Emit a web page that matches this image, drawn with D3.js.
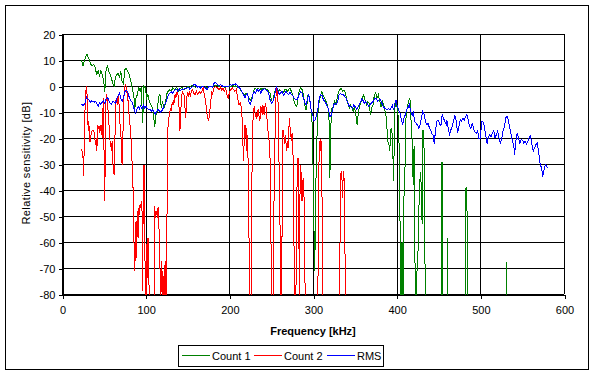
<!DOCTYPE html>
<html><head><meta charset="utf-8">
<script src="https://cdn.jsdelivr.net/npm/d3@7/dist/d3.min.js"></script>
<style>
body{margin:0;background:#fff}
svg{display:block}
text{font-family:"Liberation Sans",Arial,sans-serif;fill:#000}
</style>
</head><body>
<svg id="chart" width="594" height="375"></svg>
<script>
// ---- data ----
const xTicks = [0,100,200,300,400,500,600];
const yTicks = [20,10,0,-10,-20,-30,-40,-50,-60,-70,-80];
const seriesNames = ["Count 1","Count 2","RMS"];
const seriesColors = ["#008000","#ff0000","#0000ff"];

// Count 1 (green)
const count1Freq = [23.4,25.0,26.6,28.2,29.8,31.3,32.9,34.5,36.1,37.7,39.3,40.1,41.7,43.3,44.8,46.4,48.0,49.6,51.2,52.8,54.4,56.0,57.5,59.1,60.7,62.3,63.9,65.5,67.1,68.7,70.2,71.8,73.4,75.0,76.6,78.2,79.8,81.3,82.9,84.5,86.1,86.9,88.5,90.1,91.7,93.3,94.8,96.4,98.0,99.6,101.2,102.8,104.4,106.0,107.5,109.1,110.7,112.3,113.9,115.5,117.1,118.7,120.2,121.8,123.4,125.0,126.6,128.2,130.6,132.1,134.5,136.9,139.3,140.9,143.3,145.6,148.0,150.4,152.8,155.2,157.5,159.9,162.3,164.7,167.1,169.4,171.8,174.2,176.6,179.0,181.3,183.7,186.1,188.5,190.9,193.3,195.6,198.0,
199.6,201.2,202.8,204.4,206.0,207.5,209.1,210.7,212.3,213.9,215.5,217.1,218.7,220.2,221.8,223.4,225.0,226.6,228.2,229.8,231.3,232.9,234.5,236.1,237.7,239.3,240.9,242.5,244.0,245.6,247.2,248.8,250.4,252.0,253.6,255.2,256.7,258.3,259.9,261.5,263.1,264.7,266.3,267.9,269.4,271.0,272.6,274.2,275.8,277.4,279.0,280.6,282.1,283.7,285.3,286.9,288.5,290.1,291.7,293.3,294.0,295.6,297.2,298.8,299.6,300.4,301.2,302.0,302.8,303.6,304.4,306.0,307.5,309.1,310.7,312.3,313.9,315.5,317.1,318.7,319.4,320.2,321.0,321.8,322.6,323.4,324.2,325.8,327.4,329.0,330.6,332.1,333.7,335.3,336.9,338.5,340.1,341.7,343.3,344.8,346.4,348.0,349.6,351.2,352.8,354.4,356.0,357.5,359.1,360.7,362.3,363.9,365.5,367.1,368.7,370.2,371.8,373.4,375.0,376.6,378.2,379.8,381.3,382.9,384.5,386.1,387.7,389.3,390.9,391.7,393.3,394.8,396.4,
397.6,398.4,399.2,400.0,400.8,401.6,402.4,403.2,404.0,404.8,405.6,406.4,407.2,408.0,408.8,409.6,410.4,411.2,412.0,412.8,413.6,414.4,415.2,416.0,416.8,417.6,418.4,419.2,420.0,420.8,421.6,422.4,423.2,424.0,425.6,427.2,428.8,430.4,431.2,432.0,432.8,433.6,434.4,453.0,453.6,454.4,455.2,460.4,461.0,461.6,481.6,482.4,483.2,484.0,484.8,531.0,531.6,532.2,580.0];
const count1 = [10.0,7.7,9.5,11.3,12.3,10.8,10.0,8.2,7.9,8.2,7.7,6.2,4.4,5.9,3.6,5.9,4.6,2.3,-2.1,6.9,7.7,5.6,4.4,3.1,0.8,0,3.6,4.4,4.9,3.1,5.6,1.8,0.8,6.2,6.7,5.9,4.9,3.1,0.8,-1.5,-4.6,-9.2,-4.6,-3.3,-0.5,-2.1,-0.3,-14.4,0,-0.8,-4.6,-3.3,-5.9,-7.2,-7.9,-9.7,-15.9,-11.0,-9.7,-4.1,-3.3,-8.5,-5.9,-8.7,-7.2,-3.3,-2.1,-1.5,-2.1,-0.8,-1.3,-0.5,-2.1,-1.3,-0.5,-1.5,-0.8,-0.3,-0.5,0.3,-0.3,-0.5,0,-0.3,0,-0.5,-0.3,-0.8,0,-0.3,0,0.3,0,-0.3,0.3,-0.3,-0.5,0,
0,-0.3,0,0.3,-0.3,0,-0.3,-0.5,-1.0,-1.8,-2.6,-2.8,-3.6,-2.8,-3.3,-4.6,-5.6,-4.6,-3.3,-1.0,-0.8,-1.5,-0.8,-1.5,-1.0,-1.3,-0.8,-0.8,-1.3,-1.5,-2.1,-2.8,-5.6,-6.2,-3.3,-1.3,-0.8,-2.1,-1.5,-1.8,-2.1,-2.6,-1.5,-1.3,-2.1,-1.3,-0.8,-2.1,-3.3,-5.9,-7.2,-7.9,-4.6,-1.5,-0.8,-1.3,-3.3,-7.2,-9.2,-5.9,-3.3,-4.6,-7.2,-13.6,-23.8,-35.4,-55.9,-71.3,-55.9,-35.4,-22.6,-9.7,-5.9,-3.3,-2.1,-3.8,-4.6,-5.9,-7.2,-9.7,-14.9,-35.4,-17.4,-12.3,-8.5,-9.7,-7.2,-5.9,-7.2,-4.6,-2.1,-1.3,-1.0,-2.1,-1.5,-2.6,-4.6,-6.7,-8.5,-7.2,-8.2,-9.7,-7.9,-11.0,-14.9,-9.7,-7.7,-5.9,-4.6,-3.3,-5.6,-7.2,-5.9,-6.7,-11.0,-8.5,-7.2,-3.3,-2.6,-4.6,-3.3,-5.9,-7.9,-5.9,-7.2,-9.7,-12.3,-21.3,-22.6,-25.1,-16.2,-18.7,-36.7,
-9.5,-7.0,-5.5,-7.5,-8.5,-11.0,-14.0,-30.0,-52.0,-75.0,-95,-60,-95,-95,-42,-40,-22,-12,-9.5,-8,-7,-6,-4.6,-5.5,-9,-18.5,-20,-33,-38,-23,-50,-95,-85,-73,-63,-38,-33,-53,-17,-17,-25,-55,-95,-95,-29.5,-29.5,-95,-95,-58.5,-95,-95,-40,-39,-43,-95,-95,-67.6,-95,-95];

// Count 2 (red)
const count2Freq = [23.4,25.0,25.8,26.6,27.4,28.2,29.0,29.8,30.6,31.3,32.1,32.9,33.7,35.3,36.9,38.5,40.1,40.9,41.7,42.5,43.3,44.0,44.8,45.6,46.4,47.2,48.0,48.8,49.6,50.4,51.2,52.0,52.8,53.6,54.4,55.2,56.0,56.7,57.5,58.3,59.1,59.9,60.7,61.5,62.3,63.1,63.9,64.7,65.5,66.3,67.1,67.9,68.7,69.4,70.2,71.0,71.8,72.6,73.4,74.2,75.0,75.8,76.6,77.4,78.2,79.0,79.8,80.6,81.3,82.1,82.9,83.7,84.5,85.3,86.1,86.9,87.7,88.5,89.3,90.1,90.9,91.7,92.5,93.3,94.0,94.8,95.6,96.4,97.2,98.0,98.8,99.6,100.4,101.2,102.0,102.8,103.6,104.4,109.9,110.7,111.5,112.3,113.1,113.9,114.7,115.5,116.3,117.1,117.9,118.7,119.4,120.2,121.0,121.8,122.6,123.4,124.2,125.0,
125.8,126.6,127.4,128.2,129.0,129.8,130.6,131.3,132.1,132.9,133.7,134.5,135.3,136.1,136.9,137.7,138.5,139.3,140.1,140.9,141.7,142.5,143.3,144.0,144.8,145.6,146.4,147.2,148.0,148.8,149.6,150.4,151.2,152.0,152.8,153.6,154.4,156.0,157.5,159.1,160.7,162.3,163.9,165.5,167.1,167.9,168.7,169.4,170.2,171.0,171.8,172.6,173.4,174.2,175.0,175.8,176.6,177.4,178.2,179.0,179.8,180.6,181.3,182.9,184.5,186.1,187.7,189.3,190.9,192.5,194.0,195.6,197.2,198.8,
199.6,200.4,202.0,203.6,205.2,206.7,208.3,209.9,211.5,213.1,214.7,215.5,216.3,217.1,217.9,218.7,219.4,220.2,221.0,221.8,222.6,223.4,224.2,225.0,225.8,226.6,227.4,228.2,229.0,229.8,230.6,231.3,232.1,232.9,233.7,234.5,235.3,236.1,236.9,237.7,238.5,239.3,240.1,240.9,241.7,242.5,243.3,244.0,244.8,245.6,246.4,247.2,248.0,248.8,249.6,250.4,251.2,252.0,252.8,253.6,254.4,255.2,256.0,256.7,257.5,258.3,259.1,259.9,260.7,261.5,262.3,263.1,263.9,264.7,265.5,266.3,267.1,267.9,268.7,269.4,270.2,271.0,271.8,272.6,273.4,274.2,275.0,275.8,276.6,277.4,278.2,279.0,279.8,280.6,281.3,282.1,282.9,283.7,284.5,285.3,286.1,286.9,287.7,288.5,289.3,290.1,290.9,
305.5,306.3,307.1,307.9,308.7,309.4,310.2,311.0,311.8,331.3,332.1,332.9,333.7,334.5,335.3,336.1,336.9,337.7,338.5,339.3,580.0];
const count2 = [-24.1,-26.4,-34.7,-22.6,-9.7,-4.6,0,-2.1,-9.7,-17.4,-13.6,-21.3,-21.3,-17.4,-16.9,-17.7,-22.6,-20.0,-25.1,-14.9,-16.2,-15.6,-17.9,-14.9,-17.4,-14.9,-20.0,-9.7,-4.6,-30.3,-44.4,-9.7,-4.6,-3.3,-7.2,-9.7,-13.6,-18.7,-21.3,-22.6,-25.1,-21.3,-29.0,-32.8,-34.1,-23.8,-9.7,-4.6,-5.9,-7.2,-3.3,-5.9,-9.7,-14.9,-17.4,-22.6,-30.3,-22.6,-9.7,-3.3,-0.8,0.8,-0.3,-2.1,-3.3,-5.9,-9.7,-12.3,-14.9,-17.4,-22.6,-29.0,-35.4,-43.1,-61.0,-71.3,-62.3,-52.1,-66.2,-48.2,-58.5,-46.9,-49.5,-45.6,-46.9,-44.4,-46.9,-79.0,-31.5,-30.3,-37.9,-95,-95,-63.6,-58.5,-73.8,-58.5,-95,-95,-46.2,-50.8,-48.2,-49.5,-46.9,-50.8,-46.4,-61.0,-68.7,-95,-67.4,-73.8,-71.3,-95,-73.8,-68.7,-95,-67.4,-95,
-25.1,-16.2,-13.6,-11.0,-9.7,-8.5,-9.7,-7.2,-6.7,-5.9,-7.2,-4.6,-3.3,-4.6,-3.3,-2.1,-3.3,-4.6,-9.7,-17.4,-12.3,-5.9,-3.3,-2.1,-3.1,-2.8,-4.6,-9.7,-12.3,-5.9,-3.3,-2.6,-4.1,-2.1,-3.3,-3.8,-2.1,-1.5,-2.8,-3.3,-2.1,-3.3,-2.1,-2.8,-2.1,-1.3,-0.8,-2.1,-3.3,-4.6,-5.9,-9.2,-11.0,-12.3,-13.6,-12.3,-9.7,-7.2,-4.6,-2.1,-3.3,-2.1,-0.8,-0.3,-0.5,-0.8,-1.3,-0.5,-1.5,-0.8,-2.1,-1.0,-3.3,-5.1,
-3.3,-2.1,-1.3,-0.8,-1.5,-2.1,-1.3,-4.6,-7.2,-6.7,-8.5,-14.9,-22.6,-29.0,-18.7,-14.9,-20.0,-16.2,-25.1,-18.7,-32.3,-55.9,-73.8,-95,-95,-61.0,-18.1,-13.6,-9.7,-7.9,-9.7,-11.8,-10.5,-12.8,-9.7,-9.2,-11.0,-13.6,-12.3,-7.9,-8.5,-11.0,-7.2,-9.7,-11.3,-7.9,-6.7,-8.5,-11.8,-14.9,-18.2,-20.0,-22.6,-29.0,-55.9,-73.8,-95,-95,-73.8,-35.4,-23.8,-9.7,-2.1,-0.3,-1.3,-7.2,-22.6,-40.5,-55.9,-95,-95,-50.8,-16.9,-17.4,-20.0,-22.1,-18.7,-22.6,-25.1,-21.3,-23.8,-17.4,-12.3,-16.2,-18.7,-21.3,-17.9,-21.3,-35.4,-64.9,-95,-95,-73.8,-45,-30,-27.7,-35,-95,-40,-30.4,-36.0,-44.4,-37,-35.4,-43.1,-60,-95,
-95,-60,-30,-21,-25,-20.5,-23,-50,-95,-95,-68,-35.4,-32.8,-34.1,-43,-33.8,-32.8,-45.6,-72.6,-95,-95];

// RMS (blue)
const rmsFreq = [23.4,25.0,26.6,28.2,29.0,30.6,32.1,33.7,35.3,36.9,38.5,40.1,41.7,43.3,44.8,46.4,48.0,49.6,51.2,52.8,54.4,56.0,57.5,59.1,60.7,62.3,63.9,65.5,67.1,68.7,70.2,71.8,73.4,75.0,76.6,78.2,79.8,81.3,82.9,84.5,86.1,87.7,89.3,90.9,92.5,94.0,95.6,97.2,98.8,100.4,102.0,103.6,105.2,106.7,108.3,109.9,111.5,113.1,114.7,116.3,117.9,119.4,121.0,122.6,124.2,125.8,127.4,129.0,130.6,132.1,133.7,135.3,136.9,138.5,140.1,141.7,143.3,144.8,146.4,148.0,149.6,151.2,152.8,154.4,156.0,157.5,159.1,160.7,162.3,163.9,165.5,167.1,168.7,170.2,171.8,173.4,175.0,176.6,178.2,179.8,181.3,182.9,184.5,186.1,187.7,189.3,190.9,192.5,194.0,195.6,197.2,198.8,
199.6,201.2,202.8,204.4,206.0,207.5,209.1,210.7,212.3,213.9,215.5,217.1,218.7,220.2,221.8,223.4,225.0,226.6,228.2,229.8,231.3,232.9,234.5,236.1,237.7,239.3,240.9,242.5,244.0,245.6,247.2,248.8,250.4,252.0,253.6,255.2,256.7,258.3,259.9,261.5,263.1,264.7,266.3,267.9,269.4,271.0,272.6,274.2,275.8,277.4,279.0,280.6,282.1,283.7,285.3,286.9,288.5,290.1,291.7,293.3,294.8,296.4,298.0,299.6,301.2,302.8,304.4,306.0,307.5,309.1,310.7,312.3,313.9,315.5,317.1,318.7,320.2,321.8,323.4,325.0,326.6,328.2,329.8,331.3,332.9,334.5,336.1,337.7,339.3,340.9,342.5,344.0,345.6,347.2,348.8,350.4,352.0,353.6,355.2,356.7,358.3,359.9,361.5,363.1,364.7,366.3,367.9,369.4,371.0,372.6,374.2,375.8,377.4,379.0,380.6,382.1,383.7,385.3,386.9,388.5,390.1,391.7,393.3,394.8,396.4,
397.6,399.2,400.8,402.4,404.0,405.6,407.2,408.8,410.4,412.0,413.6,415.2,416.8,418.4,420.0,421.6,423.2,424.8,426.4,428.0,429.6,431.2,432.8,434.4,436.0,437.6,439.2,440.8,442.4,444.0,444.8,446.4,448.0,449.6,451.2,452.8,454.4,456.0,457.6,459.2,460.0,461.6,463.2,464.8,466.4,468.0,469.6,471.2,472.8,474.4,476.0,477.6,479.2,480.8,482.4,484.0,485.6,487.2,488.8,490.4,492.0,493.6,495.2,496.8,498.4,500.0,501.6,503.2,504.8,506.4,508.0,509.6,511.2,512.8,514.4,516.0,517.6,519.2,520.8,522.4,524.0,525.6,527.2,528.8,530.4,532.0,533.6,535.2,536.8,538.4,540.0,540.8,542.4,544.0,545.6,547.2,548.8,550.4,552.0,553.6,555.2,556.8,558.4,560.0,561.6,563.2,564.8,566.4,568.0,569.6,571.2,572.8,573.6,574.4,576.0,577.6,579.2,580.0];
const rms = [-6.9,-7.4,-7.2,-6.2,-4.1,-4.9,-5.1,-6.4,-5.6,-5.9,-6.2,-5.9,-6.9,-7.9,-6.4,-7.2,-6.2,-5.6,-6.7,-4.9,-4.4,-5.6,-6.7,-7.2,-5.9,-6.2,-6.7,-4.9,-3.8,-2.8,-4.6,-5.9,-4.6,-2.3,-1.5,-2.1,-3.8,-5.1,-5.9,-6.7,-8.7,-10.5,-9.2,-7.9,-8.7,-7.7,-8.7,-7.2,-8.5,-7.9,-8.7,-9.2,-9.0,-9.7,-9.2,-10.0,-10.8,-9.7,-9.0,-9.5,-10.0,-9.5,-8.5,-7.2,-6.2,-4.6,-3.3,-2.8,-2.1,-2.8,-2.1,-1.5,-1.3,-2.1,-1.0,-1.8,-1.3,-1.5,-0.8,-1.0,-0.8,-0.5,-1.3,-0.8,-0.3,0.5,0.5,0,-0.5,0,-0.8,-0.3,0,-0.5,-0.8,-1.3,-0.5,0,-0.3,-0.5,0.8,1.3,1.0,0.5,0,0.5,0.3,-0.3,0,-0.3,0,-0.3,
0,0.5,0.3,0.8,0.5,0.8,0.3,-0.3,-0.8,-1.5,-2.6,-3.3,-4.6,-3.3,-2.8,-6.2,-6.9,-5.6,-3.3,-2.1,-2.8,-1.3,-2.1,-1.5,-2.8,-1.5,-1.3,-1.0,-1.5,-1.8,-3.3,-5.4,-6.7,-5.9,-4.6,-1.3,-0.3,-2.1,-3.3,-2.6,-2.1,-3.6,-2.8,-2.1,-2.8,-3.3,-2.3,-3.3,-3.6,-4.6,-5.1,-5.4,-4.4,-3.3,-2.1,-2.8,-4.6,-6.2,-7.2,-5.4,-3.3,-5.9,-9.7,-11.0,-13.6,-12.8,-11.0,-8.5,-4.6,-3.3,-3.6,-5.1,-5.9,-6.7,-7.9,-9.2,-11.8,-11.3,-9.2,-7.2,-6.7,-7.2,-5.6,-3.3,-2.8,-3.3,-3.1,-4.1,-4.6,-5.9,-7.2,-7.9,-7.7,-8.5,-7.2,-7.9,-9.0,-8.2,-7.2,-6.2,-4.9,-5.6,-6.7,-5.9,-6.7,-7.7,-7.4,-6.7,-6.2,-5.6,-4.6,-4.9,-5.9,-5.4,-5.1,-6.4,-7.7,-8.5,-8.7,-9.2,-8.7,-9.2,-8.5,-7.4,-9.2,
-7.0,-5.4,-7.9,-9.2,-10.5,-12.8,-14.9,-12.3,-11.0,-9.2,-8.2,-7.2,-9.7,-11.3,-10.3,-13.6,-14.4,-14.9,-16.2,-14.9,-12.3,-9.7,-11.0,-13.6,-14.9,-14.4,-16.2,-17.2,-18.7,-19.0,-22.1,-17.4,-13.6,-13.1,-14.4,-15.4,-11.0,-12.3,-13.8,-14.9,-13.1,-16.2,-18.5,-16.9,-15.6,-13.1,-11.5,-13.6,-17.9,-15.6,-12.8,-13.6,-12.3,-13.1,-11.8,-11.0,-13.1,-15.6,-16.4,-14.1,-16.7,-17.7,-18.2,-17.2,-20.5,-20.0,-13.8,-13.8,-15.4,-19.0,-22.1,-20.0,-18.7,-19.5,-18.2,-17.2,-20.0,-18.7,-17.4,-20.0,-22.1,-20.0,-17.2,-15.9,-12.3,-11.5,-13.1,-16.2,-18.7,-21.3,-22.6,-26.7,-21.3,-18.2,-20.0,-22.1,-20.5,-20.8,-22.1,-21.3,-22.3,-21.3,-19.7,-19.2,-22.6,-25.1,-23.8,-22.6,-22.1,-25.1,-29.5,-31.3,-32.3,-34.9,-32.3,-30.3,-30.8,-31.5];

// ---- chart ----
const svg = d3.select("#chart");
const W = 594, H = 375;
const plot = {left: 62, right: 564, top: 34, bottom: 294};

const x = d3.scaleLinear().domain([0, 600]).range([plot.left, plot.right]);
const y = d3.scaleLinear().domain([-80, 20]).range([plot.bottom, plot.top]);

// outer border
svg.append("rect").attr("x", 5.5).attr("y", 5.5).attr("width", 583).attr("height", 364)
  .attr("fill", "#fff").attr("stroke", "#000").attr("stroke-width", 1).attr("shape-rendering", "crispEdges");

// gridlines
const grid = svg.append("g").attr("shape-rendering", "crispEdges").attr("stroke", "#000").attr("stroke-width", 1);
grid.selectAll(".hg").data(yTicks).join("line")
  .attr("x1", plot.left).attr("x2", plot.right)
  .attr("y1", d => Math.round(y(d)) + 0.5).attr("y2", d => Math.round(y(d)) + 0.5);
grid.selectAll(".vg").data(xTicks).join("line")
  .attr("y1", plot.top).attr("y2", plot.bottom)
  .attr("x1", d => Math.round(x(d)) + 0.5).attr("x2", d => Math.round(x(d)) + 0.5);

// axes
const yAxis = d3.axisLeft(y).tickValues(yTicks).tickFormat(d => String(d)).tickSize(4).tickPadding(3);
const xAxis = d3.axisBottom(x).tickValues(xTicks).tickFormat(d => String(d)).tickSize(4).tickPadding(8);
const gy = svg.append("g").attr("transform", `translate(${plot.left + 0.5},0.5)`).call(yAxis);
const gx = svg.append("g").attr("transform", `translate(0.5,${plot.bottom + 0.5})`).call(xAxis);
[gy, gx].forEach(g => {
  g.attr("shape-rendering", "crispEdges");
  g.select(".domain").attr("stroke", "#000");
  g.selectAll(".tick line").attr("stroke", "#000");
  g.selectAll("text").attr("font-size", 11).attr("font-family", '"Liberation Sans",Arial,sans-serif').attr("fill", "#000");
});

// clip
svg.append("clipPath").attr("id", "clip").append("rect")
  .attr("x", plot.left).attr("y", plot.top).attr("width", plot.right - plot.left).attr("height", plot.bottom - plot.top + 1);

const line = d3.line().x(d => x(d[0])).y(d => y(d[1]));
const series = [
  {name: seriesNames[0], color: seriesColors[0], data: d3.zip(count1Freq, count1)},
  {name: seriesNames[1], color: seriesColors[1], data: d3.zip(count2Freq, count2)},
  {name: seriesNames[2], color: seriesColors[2], data: d3.zip(rmsFreq, rms)}
];
const lines = svg.append("g").attr("clip-path", "url(#clip)");
lines.selectAll("path").data(series).join("path")
  .attr("d", d => line(d.data))
  .attr("fill", "none").attr("stroke", d => d.color).attr("stroke-width", 1)
  .attr("stroke-linejoin", "miter").attr("shape-rendering", "crispEdges");

// axis titles
svg.append("text").attr("x", 313).attr("y", 335).attr("text-anchor", "middle")
  .attr("font-size", 11).attr("font-weight", "bold").text("Frequency [kHz]");
svg.append("text").attr("transform", "translate(30,163) rotate(-90)").attr("text-anchor", "middle")
  .attr("font-size", 11).attr("letter-spacing", 0.4).text("Relative sensitivity [dB]");

// legend
const lg = svg.append("g");
lg.append("rect").attr("x", 178.5).attr("y", 345.5).attr("width", 205).attr("height", 21)
  .attr("fill", "#fff").attr("stroke", "#000").attr("shape-rendering", "crispEdges");
const legX = [182, 254, 327];
series.forEach((s, i) => {
  lg.append("line").attr("x1", legX[i]).attr("x2", legX[i] + 28).attr("y1", 355.5).attr("y2", 355.5)
    .attr("stroke", s.color).attr("shape-rendering", "crispEdges");
  lg.append("text").attr("x", legX[i] + 30).attr("y", 359.5).attr("font-size", 11).text(s.name);
});
</script>
</body></html>
